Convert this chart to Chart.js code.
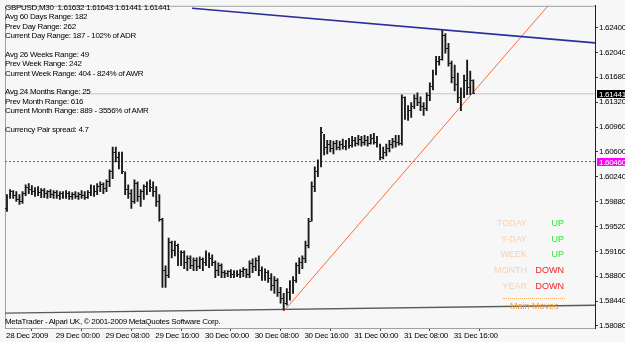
<!DOCTYPE html>
<html><head><meta charset="utf-8">
<script src="https://cdn.jsdelivr.net/npm/chart.js@4.4.1/dist/chart.umd.min.js"></script>
<style>
html,body{margin:0;padding:0;background:#f7f7f7;width:625px;height:342px;overflow:hidden}
#wrap{position:relative;width:625px;height:342px}
canvas{position:absolute;left:0;top:0}
.t{position:absolute;font-family:"Liberation Sans",Arial,sans-serif;font-size:8px;letter-spacing:-0.3px;color:#000;white-space:pre}
.s{position:absolute;font-family:"Liberation Sans",Arial,sans-serif;font-size:9px;line-height:11px;white-space:pre}
</style></head><body><div id="wrap"><canvas id="c" width="625" height="342"></canvas></div>
<script>
// ---------- DATA ----------
const symbol = 'GBPUSD,M30';
const opens = [1.59782,1.59954,1.60025,1.59968,1.59911,1.59882,1.59996,1.60082,1.60054,1.60025,
1.60054,1.60011,1.60039,1.59996,1.60025,1.59982,1.60011,1.59968,1.59996,1.59954,
1.59996,1.59954,1.59982,1.59954,1.59982,1.59968,1.59939,1.60011,1.60082,1.60025,
1.60097,1.60125,1.60068,1.60168,1.60311,1.60598,1.60526,1.60569,1.60283,1.60054,
1.59996,1.59882,1.60140,1.59954,1.60025,1.60097,1.60140,1.60082,1.60025,1.59882,
1.59625,1.58881,1.58809,1.59282,1.59167,1.59238,1.59024,1.59138,1.58995,1.59052,
1.58952,1.59024,1.58938,1.59038,1.58995,1.59095,1.59052,1.58995,1.58881,1.58952,
1.58852,1.58838,1.58866,1.58823,1.58852,1.58823,1.58866,1.58895,1.58823,1.58981,
1.58938,1.59024,1.58881,1.58809,1.58852,1.58766,1.58666,1.58738,1.58566,1.58480,
1.58409,1.58566,1.58666,1.58738,1.58952,1.58995,1.59052,1.59238,1.59596,1.60097,
1.60311,1.60426,1.60812,1.60669,1.60712,1.60655,1.60727,1.60669,1.60712,1.60684,
1.60741,1.60698,1.60769,1.60727,1.60784,1.60741,1.60769,1.60727,1.60798,1.60741,
1.60698,1.60526,1.60598,1.60655,1.60712,1.60755,1.60741,1.60727,1.61384,1.61141,
1.61198,1.61255,1.61370,1.61313,1.61255,1.61227,1.61413,1.61542,1.61742,1.61914,
1.61942,1.62286,1.62100,1.61885,1.61670,1.61570,1.61384,1.61456,1.61627,1.61527,
1.61632];
const highs = [1.59982,1.60054,1.60039,1.60025,1.59982,1.60025,1.60125,1.60140,1.60111,1.60082,
1.60097,1.60068,1.60068,1.60039,1.60054,1.60039,1.60039,1.60025,1.60025,1.60039,
1.60025,1.60011,1.60025,1.60011,1.60039,1.60025,1.60039,1.60125,1.60111,1.60140,
1.60168,1.60154,1.60197,1.60340,1.60669,1.60669,1.60598,1.60598,1.60311,1.60125,
1.60054,1.60197,1.60168,1.60054,1.60125,1.60168,1.60197,1.60168,1.60097,1.59982,
1.59639,1.58952,1.59353,1.59310,1.59310,1.59267,1.59167,1.59167,1.59095,1.59095,
1.59067,1.59067,1.59081,1.59067,1.59167,1.59138,1.59110,1.59024,1.58995,1.58981,
1.58881,1.58881,1.58895,1.58881,1.58881,1.58895,1.58924,1.58909,1.59024,1.59052,
1.59067,1.59095,1.58938,1.58909,1.58881,1.58838,1.58795,1.58766,1.58638,1.58552,
1.58623,1.58738,1.58795,1.58995,1.59067,1.59095,1.59310,1.59639,1.60168,1.60383,
1.60484,1.60955,1.60855,1.60769,1.60769,1.60755,1.60769,1.60755,1.60784,1.60769,
1.60798,1.60827,1.60812,1.60841,1.60827,1.60841,1.60827,1.60855,1.60870,1.60827,
1.60712,1.60669,1.60712,1.60769,1.60798,1.60841,1.60841,1.61427,1.61398,1.61270,
1.61313,1.61427,1.61456,1.61398,1.61313,1.61456,1.61599,1.61785,1.61985,1.61985,
1.62357,1.62314,1.62171,1.61914,1.61856,1.61742,1.61527,1.61713,1.61928,1.61770,
1.61643];
const lows = [1.59739,1.59925,1.59925,1.59882,1.59839,1.59853,1.59968,1.59996,1.59982,1.59954,
1.59968,1.59939,1.59939,1.59925,1.59939,1.59925,1.59925,1.59911,1.59925,1.59925,
1.59911,1.59911,1.59925,1.59911,1.59925,1.59911,1.59925,1.59968,1.59954,1.59982,
1.60025,1.59996,1.60025,1.60097,1.60211,1.60455,1.60354,1.60283,1.59982,1.59925,
1.59782,1.59853,1.59882,1.59811,1.59911,1.59982,1.60025,1.59954,1.59811,1.59596,
1.58638,1.58638,1.58781,1.59067,1.59095,1.58952,1.58952,1.58909,1.58881,1.58909,
1.58881,1.58881,1.58909,1.58881,1.58952,1.58924,1.58952,1.58781,1.58809,1.58781,
1.58781,1.58795,1.58781,1.58781,1.58795,1.58781,1.58795,1.58781,1.58781,1.58852,
1.58881,1.58809,1.58738,1.58738,1.58709,1.58595,1.58552,1.58509,1.58409,1.58308,
1.58380,1.58452,1.58552,1.58709,1.58838,1.58909,1.58995,1.59210,1.59596,1.60025,
1.60240,1.60383,1.60555,1.60569,1.60598,1.60569,1.60627,1.60627,1.60641,1.60627,
1.60655,1.60669,1.60684,1.60698,1.60684,1.60698,1.60684,1.60712,1.60712,1.60669,
1.60484,1.60498,1.60541,1.60598,1.60655,1.60669,1.60698,1.60698,1.61070,1.61055,
1.61098,1.61227,1.61270,1.61198,1.61127,1.61198,1.61341,1.61498,1.61713,1.61856,
1.61928,1.62028,1.61842,1.61599,1.61484,1.61313,1.61198,1.61384,1.61427,1.61427,
1.61441];
const closes = [1.59954,1.60025,1.59968,1.59911,1.59882,1.59996,1.60082,1.60054,1.60025,1.60054,
1.60011,1.60039,1.59996,1.60025,1.59982,1.60011,1.59968,1.59996,1.59954,1.59996,
1.59954,1.59982,1.59954,1.59982,1.59968,1.59939,1.60011,1.60082,1.60025,1.60097,
1.60125,1.60068,1.60168,1.60311,1.60598,1.60526,1.60569,1.60311,1.60054,1.59996,
1.59882,1.60140,1.59954,1.60025,1.60097,1.60140,1.60082,1.60025,1.59882,1.59625,
1.58881,1.58809,1.59282,1.59167,1.59238,1.59024,1.59138,1.58995,1.59052,1.58952,
1.59024,1.58938,1.59038,1.58995,1.59095,1.59052,1.58995,1.58881,1.58952,1.58852,
1.58838,1.58866,1.58823,1.58852,1.58823,1.58866,1.58895,1.58823,1.58981,1.58938,
1.59024,1.58881,1.58809,1.58852,1.58766,1.58666,1.58738,1.58566,1.58480,1.58409,
1.58566,1.58666,1.58738,1.58952,1.58995,1.59052,1.59238,1.59596,1.60097,1.60311,
1.60426,1.60884,1.60669,1.60712,1.60655,1.60727,1.60669,1.60712,1.60684,1.60741,
1.60698,1.60769,1.60727,1.60784,1.60741,1.60769,1.60727,1.60798,1.60741,1.60698,
1.60526,1.60598,1.60655,1.60712,1.60755,1.60741,1.60727,1.61384,1.61141,1.61198,
1.61255,1.61370,1.61313,1.61255,1.61227,1.61413,1.61542,1.61742,1.61914,1.61942,
1.62286,1.62100,1.61885,1.61670,1.61570,1.61384,1.61456,1.61627,1.61527,1.61632,
1.61441];

const xTickIdx = [0,16,32,48,64,80,96,112,128,144];
const xTickLabels = ['28 Dec 2009','29 Dec 00:00','29 Dec 08:00','29 Dec 16:00','30 Dec 00:00','30 Dec 08:00','30 Dec 16:00','31 Dec 00:00','31 Dec 08:00','31 Dec 16:00'];
const yTicks = [1.58080,1.58440,1.58800,1.59160,1.59520,1.59880,1.60240,1.60600,1.60960,1.61320,1.61680,1.62040,1.62400];
const xRange = [-0.64, 189.12];
const yRange = [1.580509, 1.627147];

const blueLineX = [59.5, 189.1],  blueLineY = [1.62679, 1.62178];
const orangeLineX = [89, 175],    orangeLineY = [1.58294, 1.62766];
const mainMovesX = [-0.64, 189.1], mainMovesY = [1.58266, 1.58380];
const bidPrice = 1.61441;
const levelPrice = 1.60460;

const infoLines = ['Avg 60 Days Range: 182','Prev Day Range: 262','Current Day Range: 187 - 102% of ADR','',
'Avg 26 Weeks Range: 49','Prev Week Range: 242','Current Week Range: 404 - 824% of AWR','',
'Avg 24 Months Range: 25','Prev Month Range: 616','Current Month Range: 889 - 3556% of AMR','',
'Currency Pair spread: 4.7'];
const copyright = 'MetaTrader - Alpari UK, \u00A9 2001-2009 MetaQuotes Software Corp.';
const statusNames = ['TODAY','Y-DAY','WEEK','MONTH','YEAR'];
const statusValues = ['UP','UP','UP','DOWN','DOWN'];
const mainMovesLabel = 'Main Moves';

// ---------- TEXT OVERLAYS ----------
const wrap = document.getElementById('wrap');
function addText(cls, txt, css){ const d=document.createElement('div'); d.className=cls; d.textContent=txt; Object.assign(d.style, css); wrap.appendChild(d); return d; }
const last = opens.length-1;
const title = symbol + '  ' + [opens[last],highs[last],lows[last],closes[last]].map(v=>v.toFixed(5)).join(' ');
addText('t', [title].concat(infoLines).join('\n'), {left:'5px', top:'2.8px', lineHeight:'9.4px'});
addText('t', copyright, {left:'5px', top:'317px', lineHeight:'10px'});
const sy = [223.5, 239, 254.5, 270.5, 286];
statusNames.forEach((n,i)=>{
  addText('s', n, {right:'98px', top:(sy[i]-5.5)+'px', color:'#f6d2b0'});
  addText('s', statusValues[i], {right:'61px', top:(sy[i]-5.5)+'px', color: statusValues[i]==='UP' ? '#2ee82e' : '#f52424'});
});
const dl = document.createElement('div'); Object.assign(dl.style,{position:'absolute',left:'503px',top:'297.5px',width:'62px',height:'0',borderTop:'1px dotted #f3b26c'}); wrap.appendChild(dl);
addText('s', mainMovesLabel, {left:'510px', top:'301px', color:'#f39a3a'});

// ---------- CHART ----------
const barColor = '#181818';
function tickImg(side){ const c=document.createElement('canvas'); c.width=3; c.height=1; const g=c.getContext('2d'); g.fillStyle=barColor; g.fillRect(side==='left'?0:2,0,1,1); return c; }
const idx = opens.map((_,i)=>i);

const framePlugin = {
  id:'frame',
  beforeDraw(chart){ chart.ctx.letterSpacing='-0.3px'; },
  beforeDatasetsDraw(chart){
    const {ctx, chartArea:a} = chart;
    ctx.save(); ctx.strokeStyle='#a0a0a0'; ctx.lineWidth=1;
    ctx.beginPath(); ctx.moveTo(a.left+0.5, a.bottom); ctx.lineTo(a.left+0.5, a.top+0.5); ctx.lineTo(a.right, a.top+0.5); ctx.stroke();
    ctx.restore();
  },
  afterDraw(chart){
    const {ctx, chartArea:a} = chart; const ys = chart.scales.y;
    ctx.save();
    ctx.font = '8px "Liberation Sans", Arial, sans-serif'; ctx.textBaseline='middle'; ctx.textAlign='left';
    [[bidPrice,'#000000'],[levelPrice,'#ff00ff']].forEach(([p,col])=>{
      const py = Math.round(ys.getPixelForValue(p));
      ctx.fillStyle = col; ctx.fillRect(a.right+2, py-4, 625-a.right-2, 8);
      ctx.fillStyle = '#ffffff'; ctx.fillText(p.toFixed(5), a.right+4, py+0.5);
    });
    ctx.restore();
  }
};

new Chart(document.getElementById('c'), {
  data: {
    datasets: [
      {type:'scatter', order:1, data: idx.map(i=>({x:i, y:opens[i]})), pointStyle: tickImg('left'), pointRadius:1},
      {type:'scatter', order:2, data: idx.map(i=>({x:i, y:closes[i]})), pointStyle: tickImg('right'), pointRadius:1},
      {type:'bar', order:3, data: idx.map(i=>({x:i, y:[lows[i], highs[i]]})), backgroundColor: barColor, barThickness:1.2, borderWidth:0, grouped:false},
      {type:'line', order:4, data: blueLineX.map((x,i)=>({x, y:blueLineY[i]})), borderColor:'#2c2c9c', borderWidth:1.6, pointRadius:0},
      {type:'line', order:5, data: orangeLineX.map((x,i)=>({x, y:orangeLineY[i]})), borderColor:'#ff6a3a', borderWidth:1, pointRadius:0},
      {type:'line', order:6, data: mainMovesX.map((x,i)=>({x, y:mainMovesY[i]})), borderColor:'#5a5a5a', borderWidth:1.4, pointRadius:0},
      {type:'line', order:7, data: xRange.map(x=>({x, y:levelPrice})), borderColor:'#ff00ff', borderWidth:1, borderDash:[2,2], pointRadius:0},
      {type:'line', order:8, data: xRange.map(x=>({x, y:bidPrice})), borderColor:'#c4c4c4', borderWidth:1, pointRadius:0}
    ]
  },
  options: {
    responsive:false, devicePixelRatio:1, animation:false, events:[],
    layout:{padding:{top:2,left:2,right:0,bottom:0}},
    plugins:{legend:{display:false}, tooltip:{enabled:false}},
    scales:{
      x:{type:'linear', position:'bottom', min:xRange[0], max:xRange[1], offset:false,
         afterBuildTicks: s => { s.ticks = xTickIdx.map(v=>({value:v})); },
         afterFit: s => { s.height = 14; },
         ticks:{callback:(v)=>xTickLabels[xTickIdx.indexOf(v)], color:'#000', font:{family:'"Liberation Sans", Arial, sans-serif', size:8}, padding:0, maxRotation:0, minRotation:0, autoSkip:false, align:'start', labelOffset:-1},
         grid:{drawOnChartArea:false, drawTicks:true, tickLength:3, color:'#444'},
         border:{display:true, color:'#a0a0a0'}},
      y:{type:'linear', position:'right', min:yRange[0], max:yRange[1],
         afterBuildTicks: s => { s.ticks = yTicks.map(v=>({value:v})); },
         afterFit: s => { s.width = 30; },
         ticks:{callback:(v)=>v.toFixed(5), color:'#000', font:{family:'"Liberation Sans", Arial, sans-serif', size:8}, padding:1, autoSkip:false},
         grid:{drawOnChartArea:false, drawTicks:true, tickLength:3, color:'#333'},
         border:{display:true, color:'#222'}}
    }
  },
  plugins:[framePlugin]
});
</script></body></html>
